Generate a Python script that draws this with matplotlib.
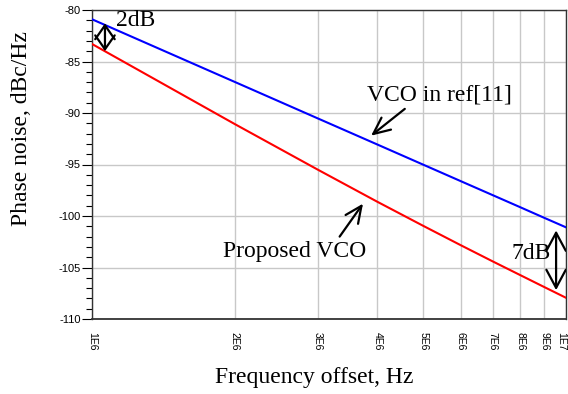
import matplotlib
matplotlib.use("Agg")
import matplotlib.pyplot as plt
from matplotlib.patches import FancyArrowPatch
from matplotlib.ticker import FixedLocator, MultipleLocator, NullFormatter

# ---- data ----
freq = [1e6, 2e6, 3e6, 4e6, 5e6, 6e6, 7e6, 8e6, 9e6, 1e7]
ref_vco = [-80.9, -86.98, -90.54, -93.06, -95.02, -96.62, -97.97, -99.14, -100.18, -101.1]
proposed_vco = [-83.3, -91.07, -95.52, -98.62, -100.96, -102.84, -104.40, -105.73, -106.90, -107.94]
xtick_vals = [1e6, 2e6, 3e6, 4e6, 5e6, 6e6, 7e6, 8e6, 9e6, 1e7]
xtick_labels = ["1E6", "2E6", "3E6", "4E6", "5E6", "6E6", "7E6", "8E6", "9E6", "1E7"]
ytick_vals = [-110, -105, -100, -95, -90, -85, -80]

serif = "Liberation Serif"
sans = "Liberation Sans"
FS = 17

fig = plt.figure(figsize=(5.68, 3.94), dpi=100)
ax = fig.add_axes([92/568, 1-319/394, (566-92)/568, (319-10)/394])

ax.plot(freq, ref_vco, color="#0000ff", lw=1.5, zorder=3)
ax.plot(freq, proposed_vco, color="#ff0000", lw=1.5, zorder=3)

ax.set_xscale("log")
ax.set_xlim(1e6, 1e7)
ax.set_ylim(-110, -80)

ax.xaxis.set_major_locator(FixedLocator(xtick_vals))
ax.xaxis.set_minor_locator(FixedLocator([]))
ax.set_xticks(xtick_vals)
ax.set_xticklabels(xtick_labels, rotation=-90, fontfamily=sans, fontsize=7.5)
ax.get_xticklabels()[-1].set_horizontalalignment("right")
ax.tick_params(axis="x", which="both", length=0, pad=9)

ax.set_yticks(ytick_vals)
ax.set_yticklabels([str(v) for v in ytick_vals], fontfamily=sans, fontsize=8)
ax.yaxis.set_minor_locator(MultipleLocator(1))
ax.yaxis.set_minor_formatter(NullFormatter())
ax.tick_params(axis="y", which="major", length=7, width=0.8, direction="out", pad=1)
ax.tick_params(axis="y", which="minor", length=4, width=0.8, direction="out")

ax.grid(True, which="major", color="#c8c8c8", lw=1.0, zorder=0)
for s in ax.spines.values():
    s.set_color("#333333")
    s.set_linewidth(1.0)
ax.spines["bottom"].set_linewidth(1.3)

fig.text(314/568, 1-378/394, "Frequency offset, Hz", fontfamily=serif, fontsize=FS,
         ha="center", va="center")
fig.text(22/568, 1-129/394, "Phase noise, dBc/Hz", fontfamily=serif, fontsize=FS,
         rotation=90, ha="center", va="center")

def arrow(p0, p1, style):
    a = FancyArrowPatch(p0, p1, arrowstyle=style, mutation_scale=1, color="black",
                        lw=1.6, shrinkA=0, shrinkB=0, zorder=5)
    ax.add_patch(a)

tkw = dict(fontfamily=serif, fontsize=FS, ha="left", va="center", zorder=6)
ax.text(1.124e6, -81.0, "2dB", **tkw)
arrow((1.065e6, -81.3), (1.065e6, -84.0), "<->,head_length=10,head_width=7")

ax.text(3.80e6, -88.25, "VCO in ref[11]", **tkw)
arrow((4.57e6, -89.6), (3.88e6, -92.2), "->,head_length=12,head_width=5.5")

ax.text(1.89e6, -103.4, "Proposed VCO", **tkw)
arrow((3.33e6, -102.0), (3.73e6, -98.8), "->,head_length=12,head_width=5.5")

ax.text(7.66e6, -103.6, "7dB", **tkw)
arrow((9.53e6, -101.4), (9.53e6, -107.2), "<->,head_length=13,head_width=7")

fig.savefig("out.png", dpi=100)
